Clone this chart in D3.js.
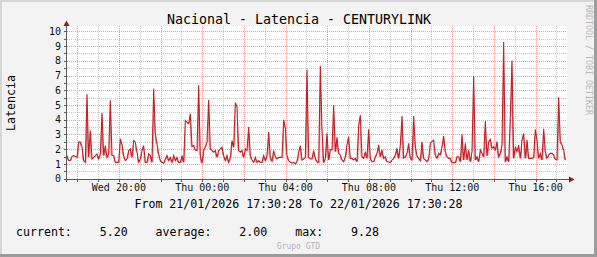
<!DOCTYPE html>
<html>
<head>
<meta charset="utf-8">
<script src="https://cdn.jsdelivr.net/npm/d3@7"></script>
<style>
  html, body { margin: 0; padding: 0; background: #f3f3f3; }
  svg { display: block; }
  text { font-family: "DejaVu Sans Mono", monospace; }
</style>
</head>
<body>
<div id="chart"></div>
<script>
// latency samples, evenly spaced over the 24h window
const latencia = [
  1.57, 1.23, 1.23, 1.5, 1.57, 1.5, 1.45, 2.48, 2.48, 2.18,
  1.23, 1.11, 5.73, 1.45, 3.27, 1.34, 1.45, 1.57, 1.68, 1.34,
  1.68, 4.45, 1.57, 2.25, 1.45, 1.68, 5.32, 1.57, 1.57, 1.11,
  1.11, 1.11, 2.7, 2.32, 1.57, 1.23, 1.34, 1.91, 2.02, 1.45,
  2.59, 2.48, 1.8, 1.11, 1.34, 1.91, 2.25, 1.11, 1.11, 1.68,
  1.57, 1.11, 6.11, 3.05, 2.36, 1.68, 1.23, 1.11, 1.05, 1.34,
  1.57, 1.23, 1.45, 1.11, 1.57, 1.23, 1.45, 1.11, 1.11, 1.57,
  1.11, 3.95, 3.84, 3.73, 4.41, 2.18, 2.25, 1.95, 1.91, 6.34,
  1.57, 1.05, 1.91, 2.18, 2.48, 5.36, 2.02, 1.91, 1.8, 1.91,
  1.45, 1.91, 2.02, 2.14, 1.57, 1.23, 1.57, 1.11, 1.45, 2.59,
  2.14, 5.16, 4.86, 1.91, 1.8, 1.91, 1.45, 2.02, 1.91, 3.5,
  1.57, 1.27, 1.11, 1.45, 1.11, 1.23, 1.11, 1.11, 1.57, 1.23,
  1.57, 3.16, 1.45, 1.18, 1.91, 1.5, 1.34, 1.45, 1.45, 1.45,
  4.0, 3.45, 1.57, 1.23, 1.11, 1.05, 1.11, 1.0, 1.18, 1.8,
  2.25, 1.27, 1.34, 1.45, 7.41, 1.45, 1.34, 1.34, 1.91, 1.38,
  1.15, 1.09, 7.65, 3.3, 1.09, 1.38, 3.08, 1.27, 1.99, 1.95,
  5.0, 1.83, 2.8, 1.72, 1.61, 1.27, 1.15, 1.49, 2.29, 2.85,
  1.38, 1.38, 1.27, 1.38, 1.15, 3.64, 4.32, 1.49, 1.38, 1.83,
  1.38, 3.35, 1.38, 1.15, 1.15, 1.49, 1.72, 2.29, 1.49, 1.95,
  1.38, 1.49, 1.15, 1.15, 1.09, 1.27, 1.38, 1.61, 2.06, 1.38,
  2.29, 4.25, 1.38, 1.49, 1.72, 2.4, 1.38, 1.27, 4.25, 2.17,
  1.54, 1.38, 1.22, 2.51, 1.38, 1.27, 1.15, 1.38, 2.4, 2.51,
  2.62, 1.61, 1.38, 1.72, 1.61, 2.17, 2.9, 1.83, 1.49, 1.38,
  1.38, 1.09, 1.09, 1.09, 1.49, 1.49, 1.15, 3.01, 1.27, 2.4,
  1.27, 1.95, 1.15, 1.83, 6.97, 1.27, 1.49, 1.15, 1.95, 1.72,
  1.49, 3.91, 1.54, 2.51, 2.67, 2.06, 2.17, 1.95, 2.51, 1.49,
  1.72, 2.29, 9.28, 1.15, 1.49, 1.15, 4.21, 8.01, 1.38, 2.17,
  1.83, 2.29, 1.38, 2.62, 3.08, 1.38, 2.62, 1.38, 1.38, 1.38,
  1.43, 3.35, 2.62, 1.38, 1.72, 1.27, 3.39, 1.83, 1.38, 1.61,
  1.72, 1.72, 1.61, 1.31, 1.27, 5.52, 2.51, 2.29, 1.95, 1.27
];
const yTicks = [0, 1, 2, 3, 4, 5, 6, 7, 8, 9, 10];
const xLabelHours = [20, 0, 4, 8, 12, 16];
const titulo = "Nacional - Latencia - CENTURYLINK";
const rango = "From 21/01/2026 17:30:28 To 22/01/2026 17:30:28";
const resumen = ["current:", "5.20", "average:", "2.00", "max:", "9.28"];

const width = 597, height = 257;
const inicio = new Date(2026, 0, 21, 17, 30, 28);
const fin = new Date(2026, 0, 22, 17, 30, 28);
const paso = (fin - inicio) / latencia.length;
const datos = latencia.map((v, i) => ({ t: new Date(+inicio + i * paso), v }));

const svg = d3.select("#chart").append("svg")
  .attr("width", width)
  .attr("height", height);

// canvas + frame
svg.append("rect").attr("width", width).attr("height", height).attr("fill", "#f3f3f3");
svg.append("rect").attr("x", 0).attr("y", 0).attr("width", width).attr("height", 2).attr("fill", "#d6d6d6");
svg.append("rect").attr("x", 0).attr("y", 0).attr("width", 2).attr("height", height).attr("fill", "#d6d6d6");
svg.append("rect").attr("x", width - 3).attr("y", 0).attr("width", 3).attr("height", height).attr("fill", "#9c9c9c");
svg.append("rect").attr("x", 0).attr("y", height - 3).attr("width", width).attr("height", 3).attr("fill", "#9c9c9c");

const x = d3.scaleTime().domain([inicio, fin]).range([67, 567]);
const y = d3.scaleLinear().domain([0, 10]).range([178.7, 31.3]);
const px = v => Math.round(v) + 0.5;

svg.append("rect").attr("x", 67).attr("y", 26).attr("width", 500).attr("height", 153).attr("fill", "#ffffff");

// grid
const grid = svg.append("g");
const halves = d3.range(0.5, 10.01, 0.5);
grid.selectAll("line.h")
  .data(halves)
  .enter().append("line")
  .attr("x1", 67).attr("x2", 567)
  .attr("y1", d => px(y(d))).attr("y2", d => px(y(d)))
  .attr("stroke", d => d % 1 === 0 ? "#f29a9a" : "#c8c8c8")
  .attr("stroke-dasharray", "1,1");

const horas = d3.timeHour.range(d3.timeHour.ceil(inicio), fin);
grid.selectAll("line.v")
  .data(horas)
  .enter().append("line")
  .attr("y1", 26).attr("y2", 179)
  .attr("x1", d => px(x(d))).attr("x2", d => px(x(d)))
  .attr("stroke", d => d.getHours() % 2 === 0 ? "#f29a9a" : "#c8c8c8")
  .attr("stroke-dasharray", "1,1");

// gradient area, column by column
const defs = svg.append("defs");
const grad = defs.append("linearGradient")
  .attr("id", "col-grad")
  .attr("x1", 0).attr("y1", 0).attr("x2", 0).attr("y2", 1);
grad.append("stop").attr("offset", "0%").attr("stop-color", "#c8242b");
grad.append("stop").attr("offset", "50%").attr("stop-color", "#d9666a");
grad.append("stop").attr("offset", "100%").attr("stop-color", "#f1c2c2");

const segs = d3.pairs(datos).filter(([a, b]) => Math.abs(a.v - b.v) > 0.05);
svg.append("g").selectAll("path")
  .data(segs)
  .enter().append("path")
  .attr("d", ([a, b]) => {
    const lo = Math.min(a.v, b.v);
    return `M${x(a.t)},${y(a.v)}L${x(b.t)},${y(b.v)}L${x(b.t)},${y(lo)}L${x(a.t)},${y(lo)}Z`;
  })
  .attr("fill", "url(#col-grad)");

const line = d3.line().x(d => x(d.t)).y(d => y(d.v));
svg.append("path")
  .datum(datos)
  .attr("d", line)
  .attr("fill", "none")
  .attr("stroke", "#c41f26")
  .attr("stroke-width", 1.1);

// axes
const axisColor = "#5a5a5a";
svg.append("line").attr("x1", 64).attr("x2", 571).attr("y1", 179.5).attr("y2", 179.5)
  .attr("stroke", axisColor);
svg.append("line").attr("x1", 66.5).attr("x2", 66.5).attr("y1", 24).attr("y2", 182)
  .attr("stroke", axisColor);
svg.append("path").attr("d", "M569,176.5L574.5,179.5L569,182.5Z").attr("fill", "#8b1c1c");
svg.append("path").attr("d", "M63.5,26L66.5,20.5L69.5,26Z").attr("fill", "#8b1c1c");

svg.append("g").selectAll("line")
  .data(halves.concat([0]))
  .enter().append("line")
  .attr("x1", 64).attr("x2", 66)
  .attr("y1", d => px(y(d))).attr("y2", d => px(y(d)))
  .attr("stroke", axisColor);
svg.append("g").selectAll("line")
  .data(horas)
  .enter().append("line")
  .attr("y1", 180).attr("y2", 182)
  .attr("x1", d => px(x(d))).attr("x2", d => px(x(d)))
  .attr("stroke", axisColor);

svg.append("g").selectAll("text")
  .data(yTicks)
  .enter().append("text")
  .attr("x", 61)
  .attr("y", d => y(d) + 3.6)
  .attr("text-anchor", "end")
  .attr("font-size", "10px")
  .attr("fill", "#111")
  .text(d => d);

const fmt = d3.timeFormat("%a %H:%M");
svg.append("g").selectAll("text")
  .data(horas.filter(h => xLabelHours.includes(h.getHours()) && h.getHours() % 4 === 0))
  .enter().append("text")
  .attr("x", d => x(d))
  .attr("y", 191)
  .attr("text-anchor", "middle")
  .attr("font-size", "10px")
  .attr("fill", "#111")
  .text(d => fmt(d));

// texts
svg.append("text")
  .attr("x", 299).attr("y", 24)
  .attr("text-anchor", "middle")
  .attr("font-size", "13.3px")
  .attr("fill", "#000")
  .text(titulo);

svg.append("text")
  .attr("transform", "translate(15,103) rotate(-90)")
  .attr("text-anchor", "middle")
  .attr("font-size", "11.6px")
  .attr("fill", "#000")
  .text("Latencia");

svg.append("text")
  .attr("x", 298.5).attr("y", 208)
  .attr("text-anchor", "middle")
  .attr("font-size", "11.6px")
  .attr("fill", "#000")
  .text(rango);

svg.append("text")
  .attr("x", 16).attr("y", 236)
  .attr("font-size", "11.6px")
  .attr("fill", "#000")
  .attr("xml:space", "preserve")
  .style("white-space", "pre")
  .text(`${resumen[0]}    ${resumen[1]}    ${resumen[2]}    ${resumen[3]}    ${resumen[4]}    ${resumen[5]}`);

svg.append("text")
  .attr("x", 298.5).attr("y", 249)
  .attr("text-anchor", "middle")
  .attr("font-size", "8px")
  .attr("fill", "#b4b4b4")
  .text("Grupo GTD");

svg.append("text")
  .attr("transform", "translate(586,5) rotate(90)")
  .attr("font-size", "8.3px")
  .attr("fill", "#b8b8b8")
  .text("RRDTOOL / TOBI OETIKER");
</script>
</body>
</html>
